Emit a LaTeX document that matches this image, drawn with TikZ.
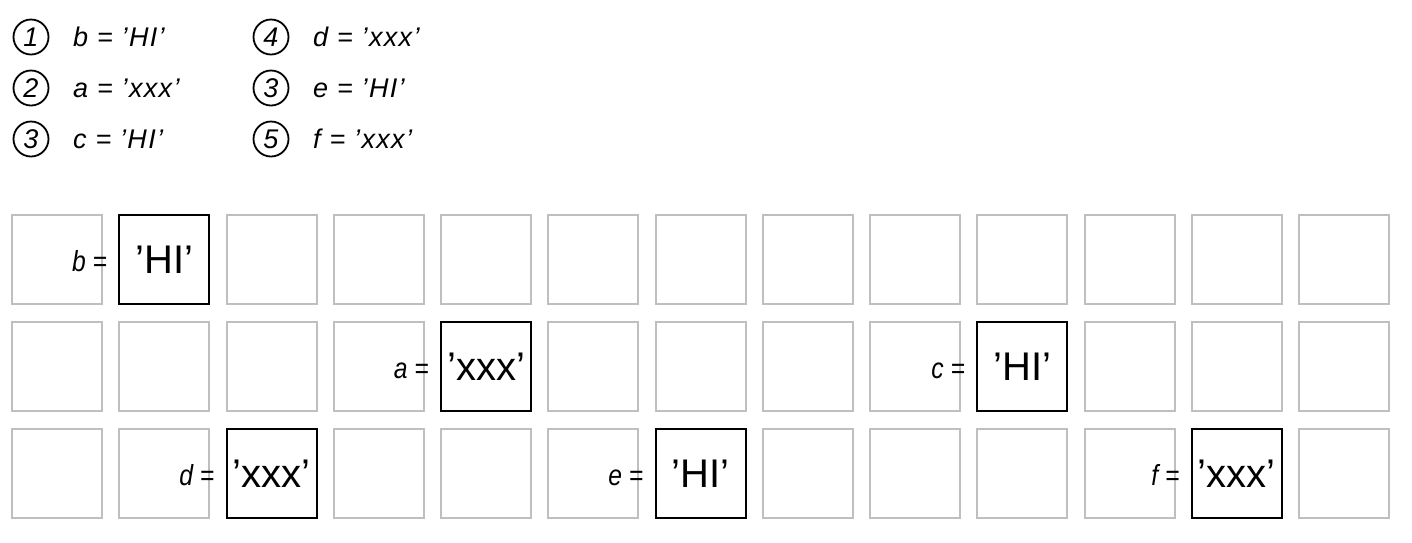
\documentclass[tikz,border=0pt]{standalone}
\usepackage{fontspec}
\setmainfont{Liberation Sans}
\newfontfamily\lblfont{Liberation Sans}[FakeStretch=0.85]
\newfontfamily\lgfont{Liberation Sans}[LetterSpace=5]
\definecolor{boxgray}{HTML}{BFBFBF}
\tikzset{
  gbox/.style={draw=boxgray, line width=2pt, minimum width=90pt, minimum height=89pt, inner sep=0pt},
  bbox/.style={draw=black, line width=2pt, minimum width=90pt, minimum height=89pt, inner sep=0pt,
    font=\fontsize{40}{48}\selectfont},
  lbl/.style={anchor=base east, inner sep=0pt, font=\lblfont\itshape\fontsize{29}{34}\selectfont},
  lgc/.style={circle, draw=black, line width=1.8pt, minimum size=35pt, inner sep=0pt,
    font=\itshape\fontsize{27}{32}\selectfont},
  lgt/.style={anchor=base west, inner sep=0pt, font=\lgfont\itshape\fontsize{27}{32}\selectfont},
}
\begin{document}
\begin{tikzpicture}[x=1pt, y=-1pt]
\useasboundingbox (0,0) rectangle (1412,542);
% grid of gray boxes
\foreach \j in {0,1,2}{
  \foreach \i in {0,...,12}{
    \node[gbox] (g-\i-\j) at ({57+107.25*\i},{259.5+107*\j}) {};
  }
}
% black boxes
\node[bbox] (B1) at (g-1-0) {’HI’};
\node[bbox] (B2) at (g-4-1) {’xxx’};
\node[bbox] (B3) at (g-9-1) {’HI’};
\node[bbox] (B4) at (g-2-2) {’xxx’};
\node[bbox] (B5) at (g-6-2) {’HI’};
\node[bbox] (B6) at (g-11-2) {’xxx’};
% labels
\node[lbl] (L1) at ([xshift=-11pt,yshift=-11.5pt]B1.west) {b =};
\node[lbl] (L2) at ([xshift=-11pt,yshift=-11.5pt]B2.west) {a =};
\node[lbl] (L3) at ([xshift=-11pt,yshift=-11.5pt]B3.west) {c =};
\node[lbl] (L4) at ([xshift=-11pt,yshift=-11.5pt]B4.west) {d =};
\node[lbl] (L5) at ([xshift=-11pt,yshift=-11.5pt]B5.west) {e =};
\node[lbl] (L6) at ([xshift=-11pt,yshift=-11.5pt]B6.west) {f =};
% legend
\node[lgc] (c1) at (31,37) {1};
\node[lgc] (c2) at (31,88) {2};
\node[lgc] (c3) at (31,139) {3};
\node[lgc] (c4) at (271,37) {4};
\node[lgc] (c5) at (271,88) {3};
\node[lgc] (c6) at (271,139) {5};
\node[lgt] (t1) at ([xshift=42pt,yshift=-9.5pt]c1.center) {b = ’HI’};
\node[lgt] (t2) at ([xshift=42pt,yshift=-9.5pt]c2.center) {a = ’xxx’};
\node[lgt] (t3) at ([xshift=42pt,yshift=-9.5pt]c3.center) {c = ’HI’};
\node[lgt] (t4) at ([xshift=42pt,yshift=-9.5pt]c4.center) {d = ’xxx’};
\node[lgt] (t5) at ([xshift=42pt,yshift=-9.5pt]c5.center) {e = ’HI’};
\node[lgt] (t6) at ([xshift=42pt,yshift=-9.5pt]c6.center) {f = ’xxx’};
\end{tikzpicture}
\end{document}
